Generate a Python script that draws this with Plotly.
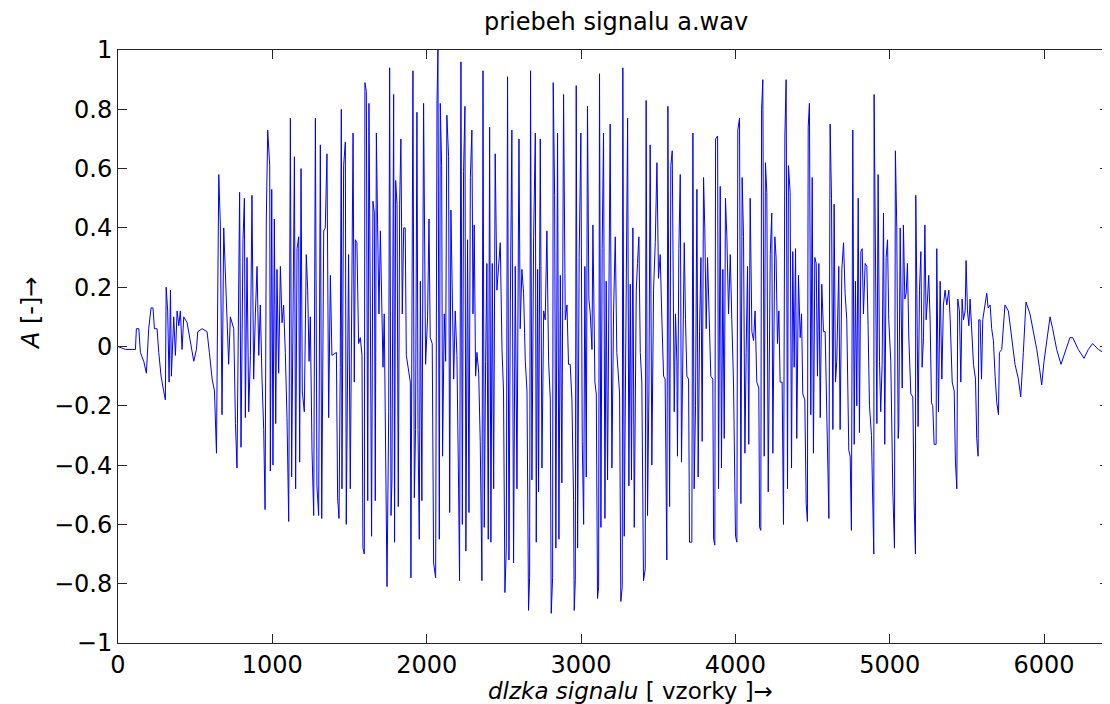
import plotly.graph_objects as go

# samples (x) and amplitude (y), region by region
x_onset = [0, 48, 91, 113, 119, 135, 145, 167, 184, 199, 214, 227, 236, 253, 264, 279, 296, 307, 312, 322,
           331, 340, 346, 361, 372, 383, 394, 404, 415, 426, 448, 465, 480, 491, 508, 517, 545, 577, 592, 610,
           625, 638, 646, 653, 663, 674, 685, 696, 707, 717, 728, 750, 761, 771]
y_onset = [0.0, -0.01, -0.01, -0.01, 0.06, 0.06, -0.02, -0.05, -0.09, 0.06, 0.13, 0.13, 0.06, 0.06, -0.02, -0.10,
           -0.15, -0.18, 0.20, 0.12, -0.12, 0.19, -0.10, 0.10, -0.03, 0.12, 0.07, 0.12, -0.01, 0.10, 0.08, 0.03,
           -0.01, -0.05, -0.01, 0.05, 0.06, 0.05, -0.02, -0.11, -0.15, -0.36, 0.16, 0.58, 0.41, -0.23, 0.40,
           0.24, 0.14, -0.06, 0.10, 0.06, -0.26, -0.41]

x_seg1 = [788, 797, 810, 819, 825, 836, 847, 858, 868, 879, 890, 901, 912, 922, 933, 944, 953, 961, 970, 983,
          987, 996, 1004, 1013, 1022, 1030, 1041, 1052, 1063, 1073, 1084, 1095, 1106, 1117, 1125, 1134, 1143,
          1151, 1160, 1171, 1177, 1186, 1194, 1207, 1220, 1229, 1238, 1246, 1257, 1268, 1279, 1289, 1300, 1311,
          1320, 1333, 1343, 1354, 1365, 1376, 1386, 1415, 1423, 1432, 1440, 1447]
y_seg1 = [0.52, -0.34, 0.36, 0.50, -0.24, 0.30, -0.22, -0.03, 0.51, -0.11, 0.11, 0.27, -0.03, 0.14, -0.11, -0.28,
          -0.55, 0.43, 0.73, 0.61, -0.42, 0.53, -0.40, 0.43, -0.26, 0.26, -0.09, 0.27, 0.08, 0.14, -0.02, -0.24,
          -0.59, 0.77, -0.44, 0.06, 0.64, -0.48, 0.33, 0.37, -0.39, 0.60, -0.15, -0.22, 0.31, 0.19, -0.05, 0.10,
          -0.35, -0.57, 0.77, -0.47, -0.57, 0.68, -0.58, 0.39, 0.40, 0.65, -0.24, 0.24, -0.03, -0.02, -0.51,
          -0.58, -0.07, 0.80]

x_seg2 = [1451, 1462, 1473, 1479, 1494, 1505, 1516, 1523, 1531, 1538, 1548, 1559, 1570, 1581, 1587, 1596, 1600,
          1609, 1618, 1626, 1635, 1643, 1652, 1661, 1667, 1674, 1682, 1691, 1700, 1710, 1717, 1725, 1734, 1743,
          1754, 1760, 1769, 1775, 1786, 1792, 1799, 1808, 1816, 1825, 1833, 1842, 1851, 1861, 1868, 1883, 1894,
          1898, 1911, 1920, 1928, 1937, 1944, 1952, 1959, 1969, 1980, 1993, 2006, 2015, 2023, 2036, 2045, 2058,
          2067, 2073, 2082, 2088, 2097, 2103, 2114, 2123, 2131, 2142, 2149, 2157, 2166, 2175, 2185, 2196, 2207,
          2213]
y_seg2 = [-0.48, 0.61, 0.69, -0.60, 0.31, -0.48, 0.37, 0.72, -0.12, 0.36, 0.35, 0.01, 0.03, -0.03, -0.68, -0.70,
          0.89, 0.86, -0.52, 0.82, 0.12, -0.64, 0.49, 0.45, -0.52, 0.72, 0.41, 0.11, 0.39, 0.12, -0.07, 0.11,
          -0.36, -0.81, -0.22, 0.94, -0.57, -0.45, 0.85, -0.66, 0.56, 0.48, -0.54, 0.48, 0.70, 0.11, 0.40, 0.40,
          -0.03, -0.09, -0.12, -0.78, 0.93, -0.51, -0.28, 0.79, -0.28, -0.65, 0.22, -0.52, 0.82, -0.06, 0.10,
          0.43, 0.03, 0.01, -0.73, -0.78, 0.83, 1.00, -0.65, 0.82, 0.61, -0.37, 0.11, -0.05, 0.78, 0.64, -0.56,
          0.46, 0.15, -0.11, 0.12, -0.03, -0.48, -0.79]

x_seg3 = [2222, 2231, 2239, 2248, 2254, 2265, 2274, 2283, 2293, 2300, 2308, 2317, 2326, 2337, 2347, 2358, 2365,
          2373, 2382, 2390, 2399, 2408, 2416, 2425, 2434, 2444, 2455, 2466, 2477, 2488, 2498, 2507, 2516, 2524,
          2533, 2542, 2552, 2563, 2574, 2585, 2598, 2606, 2617, 2628, 2639, 2650, 2660, 2667, 2673, 2682, 2693,
          2704, 2710, 2719, 2725, 2736, 2747, 2758, 2768, 2779, 2790, 2801, 2807, 2816, 2820, 2829, 2837, 2848,
          2857, 2866, 2876, 2887, 2898, 2909, 2919]
y_seg3 = [0.96, -0.60, 0.59, 0.81, -0.69, 0.36, -0.56, 0.57, 0.73, 0.11, 0.41, -0.10, -0.02, -0.09, -0.32, -0.79,
          0.93, -0.61, -0.05, 0.28, -0.65, 0.74, -0.66, 0.28, -0.48, 0.65, 0.19, 0.27, 0.35, -0.01, -0.15, -0.83,
          -0.68, 0.91, -0.72, 0.14, 0.73, -0.73, 0.27, -0.48, 0.70, 0.06, 0.26, 0.18, -0.05, -0.15, -0.89, -0.78,
          0.93, -0.45, 0.37, 0.72, -0.66, 0.26, -0.49, 0.70, -0.41, 0.12, 0.09, 0.39, -0.05, -0.18, -0.90, -0.78,
          0.89, 0.51, -0.68, 0.72, -0.65, 0.24, -0.46, 0.85, 0.09, 0.14, -0.06]

x_seg4 = [2930, 2941, 2952, 2956, 2963, 2969, 2978, 2988, 2999, 3008, 3017, 3025, 3034, 3042, 3051, 3060, 3071,
          3077, 3090, 3099, 3107, 3114, 3120, 3129, 3137, 3146, 3155, 3163, 3172, 3189, 3200, 3211, 3222, 3232,
          3250, 3258, 3267, 3271, 3280, 3291, 3302, 3310, 3319, 3327, 3336, 3345, 3358, 3366, 3375, 3384, 3394,
          3405, 3416, 3422, 3431, 3440, 3448, 3459, 3470, 3481, 3492, 3502, 3513, 3524, 3535, 3545, 3556, 3563,
          3574, 3582, 3591]
y_seg4 = [-0.06, -0.18, -0.52, -0.89, -0.79, 0.88, -0.68, 0.30, 0.72, -0.32, -0.60, 0.27, -0.44, 0.81, 0.16, 0.11,
          -0.01, 0.41, -0.12, -0.16, -0.85, -0.81, 0.92, -0.61, 0.33, 0.72, -0.58, 0.22, -0.45, 0.75, -0.41, 0.12,
          0.37, -0.02, -0.16, -0.86, -0.81, 0.94, -0.64, 0.26, 0.77, -0.47, 0.21, -0.45, 0.40, -0.61, 0.19, 0.28,
          0.37, -0.02, -0.12, -0.79, -0.75, 0.83, -0.57, -0.15, 0.68, -0.40, 0.19, 0.35, 0.62, 0.23, 0.31, 0.09,
          -0.10, -0.11, -0.72, 0.81, -0.54, 0.61, 0.66]

x_seg5 = [3604, 3612, 3621, 3625, 3634, 3643, 3651, 3660, 3669, 3677, 3686, 3697, 3703, 3718, 3725, 3733, 3742,
          3751, 3759, 3768, 3777, 3785, 3794, 3802, 3811, 3820, 3833, 3841, 3854, 3859, 3867, 3872, 3885, 3891,
          3902, 3910, 3919, 3928, 3936, 3945, 3956, 3967, 3977, 3988, 4001, 4010, 4016, 4027, 4036, 4044, 4053,
          4062, 4070, 4079, 4087, 4096, 4107, 4118, 4128, 4139, 4152, 4157, 4165, 4170, 4178, 4187, 4195, 4204,
          4213, 4226, 4236, 4243, 4256, 4264, 4273, 4282, 4290, 4303, 4312, 4321, 4329]
y_seg5 = [-0.22, 0.11, -0.05, -0.37, 0.33, 0.58, -0.39, 0.09, 0.35, 0.09, -0.10, -0.11, -0.66, -0.66, 0.72, -0.48,
          -0.20, 0.53, -0.44, 0.05, 0.30, -0.32, 0.57, 0.40, 0.06, 0.30, 0.09, -0.10, -0.11, -0.65, -0.67, 0.70,
          0.71, -0.48, 0.54, -0.41, 0.26, -0.31, 0.50, 0.37, 0.11, 0.31, 0.09, -0.12, -0.64, -0.66, 0.73, 0.77,
          -0.53, 0.57, 0.37, -0.36, -0.02, 0.27, -0.33, 0.50, 0.05, 0.02, 0.12, -0.12, -0.14, -0.61, -0.62, 0.80,
          0.90, -0.37, 0.62, 0.52, -0.49, 0.31, 0.45, -0.36, 0.37, 0.30, 0.01, 0.12, -0.12, -0.12, -0.60, 0.71,
          0.90]

x_seg6 = [4338, 4344, 4355, 4364, 4372, 4381, 4390, 4398, 4409, 4420, 4429, 4437, 4450, 4459, 4467, 4472, 4480,
          4489, 4498, 4506, 4515, 4524, 4532, 4541, 4550, 4560, 4571, 4582, 4593, 4606, 4614, 4623, 4632, 4640,
          4649, 4657, 4670, 4679, 4690, 4701, 4711, 4722, 4735, 4744, 4752, 4761, 4770, 4778, 4787, 4796, 4804,
          4813, 4822, 4830, 4841, 4852, 4860, 4869, 4882, 4891, 4897, 4899, 4908, 4917, 4925, 4934, 4942, 4951,
          4960, 4968, 4977, 4986, 4994, 5007, 5020, 5031, 5037, 5046, 5055]
y_seg6 = [-0.48, 0.61, 0.52, -0.41, 0.32, -0.07, 0.33, -0.31, 0.24, 0.03, 0.11, -0.16, -0.18, -0.53, -0.59, 0.74,
          0.82, -0.23, 0.57, -0.36, 0.30, 0.28, -0.10, 0.28, -0.24, 0.21, 0.05, 0.05, -0.22, -0.58, 0.75, 0.50,
          -0.28, 0.48, -0.12, -0.05, 0.27, -0.28, 0.26, 0.35, 0.18, 0.09, -0.35, -0.37, -0.62, 0.73, -0.33, 0.22,
          -0.20, 0.50, -0.29, 0.32, 0.33, 0.11, 0.28, 0.27, 0.07, -0.20, -0.30, -0.61, -0.70, 0.85, 0.35, -0.26,
          0.58, -0.05, -0.22, -0.06, 0.45, -0.33, 0.30, 0.36, 0.09, -0.05, -0.48, -0.68, 0.66, 0.40, -0.31]

x_seg7 = [5059, 5068, 5074, 5081, 5089, 5098, 5107, 5115, 5124, 5137, 5150, 5158, 5167, 5169, 5176, 5184, 5193,
          5202, 5210, 5219, 5228, 5236, 5245, 5253, 5262, 5271, 5279, 5288, 5301, 5305, 5316, 5327, 5338, 5348,
          5359, 5370, 5383, 5392, 5405, 5418, 5426, 5435, 5441, 5452, 5461, 5469, 5478, 5489, 5495, 5504, 5513,
          5521, 5530, 5543, 5556, 5564, 5573, 5577, 5586, 5595, 5603, 5616, 5629, 5638, 5651, 5661, 5672, 5683,
          5694, 5705, 5711, 5726, 5737]
y_seg7 = [-0.27, 0.40, 0.05, -0.14, 0.41, 0.16, 0.18, 0.28, 0.03, -0.16, -0.17, -0.52, -0.70, 0.51, 0.18, -0.27,
          0.19, 0.32, -0.07, 0.03, 0.41, 0.09, 0.16, 0.24, 0.09, -0.19, -0.20, -0.33, -0.33, 0.33, -0.22, 0.22,
          -0.11, 0.14, 0.19, 0.14, 0.19, 0.09, -0.12, -0.15, -0.39, -0.48, 0.16, 0.12, -0.12, 0.16, 0.09, 0.12,
          0.29, 0.12, 0.07, 0.16, 0.07, -0.06, -0.11, -0.31, -0.37, 0.09, 0.09, -0.11, 0.09, 0.13, 0.18, 0.13,
          0.14, 0.06, 0.02, -0.10, -0.19, -0.23, -0.02, -0.01, 0.07]

x_tail = [5747, 5769, 5791, 5812, 5834, 5849, 5866, 5883, 5909, 5931, 5953, 5970, 5985, 6000, 6028, 6039, 6056,
          6082, 6110, 6136, 6168, 6186, 6222, 6259, 6287, 6315, 6352, 6384, 6421]
y_tail = [0.14, 0.12, 0.02, -0.06, -0.11, -0.17, -0.02, 0.15, 0.11, 0.05, -0.01, -0.07, -0.13, -0.05, 0.06, 0.10,
          0.06, -0.01, -0.06, -0.02, 0.03, 0.03, -0.01, -0.04, -0.01, 0.01, -0.01, -0.02, -0.03]

x_ticks = [0, 1000, 2000, 3000, 4000, 5000, 6000]
y_ticks = [-1, -0.8, -0.6, -0.4, -0.2, 0, 0.2, 0.4, 0.6, 0.8, 1]

vzorky = x_onset + x_seg1 + x_seg2 + x_seg3 + x_seg4 + x_seg5 + x_seg6 + x_seg7 + x_tail
amplituda = y_onset + y_seg1 + y_seg2 + y_seg3 + y_seg4 + y_seg5 + y_seg6 + y_seg7 + y_tail

FONT = "DejaVu Sans"

fig = go.Figure(go.Scatter(x=vzorky, y=amplituda, mode="lines",
                           line=dict(color="#0000ff", width=1), hoverinfo="skip"))

axis_common = dict(showline=True, linecolor="#262626", linewidth=1, mirror="ticks",
                   ticks="inside", ticklen=9, tickcolor="#262626", showgrid=False, zeroline=False,
                   tickfont=dict(family=FONT, size=24, color="black"))

# page body has an 8px margin, so the figure is a bit smaller than the window
fig.update_layout(
    width=1102, height=696,
    margin=dict(l=110, r=1, t=42, b=61),
    paper_bgcolor="white", plot_bgcolor="white",
    showlegend=False,
    xaxis=dict(range=[0, 6421], tickvals=x_ticks, ticktext=[str(t) for t in x_ticks], **axis_common),
    yaxis=dict(range=[-1, 1], tickvals=y_ticks,
               ticktext=[("\u2212" if t < 0 else "") + ("%g" % abs(t)) for t in y_ticks], **axis_common),
    annotations=[
        dict(text="priebeh signalu a.wav", xref="paper", yref="paper", x=0.5025, y=1.047,
             showarrow=False, xanchor="center", yanchor="middle",
             font=dict(family=FONT, size=24, color="black")),
        dict(text="<i>dlzka signalu</i> [ vzorky ]\u2192", xref="paper", yref="paper", x=0.517, y=-0.081,
             showarrow=False, xanchor="center", yanchor="middle",
             font=dict(family=FONT, size=23, color="black")),
        dict(text="<i>A</i> [-]\u2192", xref="paper", yref="paper", x=-0.087, y=0.556, textangle=-90,
             showarrow=False, xanchor="center", yanchor="middle",
             font=dict(family=FONT, size=24, color="black")),
    ],
)

fig.write_html("out.html")
